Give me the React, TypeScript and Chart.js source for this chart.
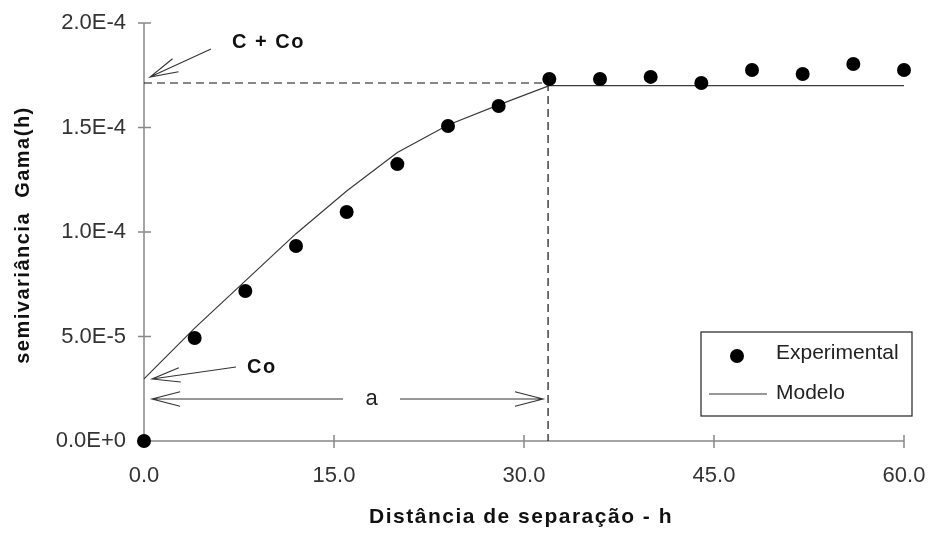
import React, { useEffect, useRef } from "react";
import { Chart, registerables } from "chart.js";

Chart.register(...registerables);

// ---- data ----
const lagH = [0, 4, 8, 12, 16, 20, 24, 28, 32, 36, 40, 44, 48, 52, 56, 60];
const gammaExp = [
  0, 4.93e-5, 7.18e-5, 9.33e-5, 1.096e-4, 1.325e-4, 1.507e-4, 1.603e-4,
  1.732e-4, 1.732e-4, 1.742e-4, 1.713e-4, 1.775e-4, 1.756e-4, 1.804e-4, 1.775e-4,
];
const modelH = [0, 4, 8, 12, 16, 20, 24, 28, 32, 60, 61];
const modelGamma = [
  2.97e-5, 5.4e-5, 7.66e-5, 9.92e-5, 1.196e-4, 1.38e-4, 1.512e-4, 1.608e-4,
  1.7e-4, 1.7e-4, 1.7e-4,
];
const xTicks = [0, 15, 30, 45, 60];
const yTicks = [0, 5e-5, 1e-4, 1.5e-4, 2e-4];
const NUGGET = 2.97e-5; // Co
const SILL = 1.713e-4; // C + Co
const RANGE = 31.9; // a

const xTitle = "Distância de separação - h";
const yTitle = "semivariância  Gama(h)";
const legendLabels = ["Experimental", "Modelo"];

const FONT = '"Liberation Sans", Arial, Helvetica, sans-serif';

function arrow(ctx: CanvasRenderingContext2D, x1: number, y1: number, tx: number, ty: number, len = 29, ang = 0.25) {
  ctx.beginPath();
  ctx.moveTo(x1, y1);
  ctx.lineTo(tx, ty);
  const a = Math.atan2(y1 - ty, x1 - tx);
  ctx.moveTo(tx + len * Math.cos(a - ang), ty + len * Math.sin(a - ang));
  ctx.lineTo(tx, ty);
  ctx.lineTo(tx + len * Math.cos(a + ang), ty + len * Math.sin(a + ang));
  ctx.stroke();
}

const decor = {
  id: "decor",
  beforeDatasetsDraw(chart: any) {
    const ctx = chart.ctx as CanvasRenderingContext2D;
    const xs = chart.scales.x;
    const ys = chart.scales.y;
    const x0 = xs.getPixelForValue(0);
    const x60 = xs.getPixelForValue(60);
    const y0 = ys.getPixelForValue(0);
    const yTop = ys.getPixelForValue(2e-4);
    ctx.save();
    // axes
    ctx.strokeStyle = "#888";
    ctx.lineWidth = 1.5;
    ctx.beginPath();
    ctx.moveTo(x0, yTop);
    ctx.lineTo(x0, y0);
    ctx.moveTo(x0, y0);
    ctx.lineTo(x60, y0);
    for (const v of yTicks) {
      const y = ys.getPixelForValue(v);
      ctx.moveTo(x0 - 6, y);
      ctx.lineTo(x0 + 7, y);
    }
    for (const v of xTicks) {
      const x = xs.getPixelForValue(v);
      ctx.moveTo(x, y0 - 6);
      ctx.lineTo(x, y0 + 7);
    }
    ctx.stroke();
    // dashed guides
    const ys1 = ys.getPixelForValue(SILL);
    const xr = xs.getPixelForValue(RANGE);
    ctx.strokeStyle = "#111";
    ctx.lineWidth = 1.2;
    ctx.setLineDash([8, 5]);
    ctx.beginPath();
    ctx.moveTo(x0, ys1);
    ctx.lineTo(xr, ys1);
    ctx.moveTo(xr, ys1);
    ctx.lineTo(xr, y0);
    ctx.stroke();
    ctx.restore();
  },
  afterDraw(chart: any) {
    const ctx = chart.ctx as CanvasRenderingContext2D;
    const xs = chart.scales.x;
    const ys = chart.scales.y;
    const ca = chart.chartArea;
    const x0 = xs.getPixelForValue(0);
    const y0 = ys.getPixelForValue(0);
    const ySill = ys.getPixelForValue(SILL);
    const yNug = ys.getPixelForValue(NUGGET);
    const xr = xs.getPixelForValue(RANGE);
    ctx.save();
    ctx.strokeStyle = "#333";
    ctx.lineWidth = 1.1;
    // C + Co arrow
    arrow(ctx, x0 + 67, ySill - 34, x0 + 6, ySill - 6);
    // Co arrow
    arrow(ctx, x0 + 92, yNug - 12, x0 + 8, yNug);
    // a arrows
    const ya = y0 - 42;
    arrow(ctx, x0 + 199, ya, x0 + 8, ya);
    arrow(ctx, x0 + 256, ya, xr - 5, ya);

    ctx.fillStyle = "#111";
    ctx.textBaseline = "middle";
    ctx.textAlign = "left";
    ctx.font = `bold 20px ${FONT}`;
    (ctx as any).letterSpacing = "1.5px";
    ctx.fillText("C + Co", x0 + 88, ySill - 40);
    ctx.fillText("Co", x0 + 103, yNug - 11);
    (ctx as any).letterSpacing = "0px";
    ctx.font = `22px ${FONT}`;
    ctx.fillStyle = "#222";
    ctx.textAlign = "center";
    ctx.fillText("a", (x0 + 199 + x0 + 256) / 2, ya);

    // axis titles
    ctx.fillStyle = "#111";
    ctx.font = `bold 21px ${FONT}`;
    (ctx as any).letterSpacing = "1.5px";
    ctx.textAlign = "center";
    ctx.fillText(xTitle, 521, y0 + 76);
    ctx.save();
    ctx.translate(23, (ca.top + ca.bottom) / 2 + 3);
    ctx.rotate(-Math.PI / 2);
    ctx.font = `bold 20px ${FONT}`;
    ctx.fillText(yTitle, 0, 0);
    ctx.restore();
    (ctx as any).letterSpacing = "0px";

    // legend
    const lx = ca.right - 203;
    const ly = ca.top + 309;
    ctx.strokeStyle = "#222";
    ctx.lineWidth = 1.2;
    ctx.strokeRect(lx, ly, 211, 84);
    ctx.fillStyle = "#000";
    ctx.beginPath();
    ctx.arc(lx + 36, ly + 24, 7, 0, Math.PI * 2);
    ctx.fill();
    ctx.strokeStyle = "#333";
    ctx.lineWidth = 1.2;
    ctx.beginPath();
    ctx.moveTo(lx + 8, ly + 62);
    ctx.lineTo(lx + 66, ly + 62);
    ctx.stroke();
    ctx.fillStyle = "#222";
    ctx.textAlign = "left";
    ctx.font = `21px ${FONT}`;
    ctx.fillText(legendLabels[0], lx + 75, ly + 21);
    ctx.fillText(legendLabels[1], lx + 75, ly + 61);
    ctx.restore();
  },
};

export default function App() {
  const ref = useRef<HTMLCanvasElement | null>(null);
  useEffect(() => {
    document.body.style.margin = "0";
    const canvas = ref.current!;
    const chart = new Chart(canvas, {
      type: "scatter",
      data: {
        datasets: [
          {
            type: "scatter",
            label: legendLabels[0],
            data: lagH.map((h, i) => ({ x: h, y: gammaExp[i] })),
            pointRadius: 7,
            pointHoverRadius: 7,
            backgroundColor: "#000",
            borderWidth: 0,
            clip: false as any,
            order: 0,
          },
          {
            type: "line",
            label: legendLabels[1],
            data: modelH.map((h, i) => ({ x: h, y: modelGamma[i] })),
            borderColor: "#3a3a3a",
            borderWidth: 1.2,
            pointRadius: 0,
            tension: 0,
            fill: false,
            clip: false as any,
            order: 1,
          },
        ],
      },
      options: {
        responsive: false,
        animation: false,
        devicePixelRatio: 1,
        layout: { padding: { left: 0, right: 26, top: 23, bottom: 0 } },
        plugins: { legend: { display: false }, tooltip: { enabled: false } },
        scales: {
          x: {
            type: "linear",
            min: 0,
            max: 60,
            grid: { display: false, drawTicks: false },
            border: { display: false },
            afterBuildTicks: (s: any) => {
              s.ticks = xTicks.map((v) => ({ value: v }));
            },
            afterFit: (s: any) => {
              s.height = 95;
              s.paddingLeft = 0;
              s.paddingRight = 0;
            },
            ticks: {
              padding: 22,
              maxRotation: 0,
              autoSkip: false,
              color: "#333",
              font: { family: FONT, size: 22 },
              callback: (v: any) => Number(v).toFixed(1),
            },
          },
          y: {
            type: "linear",
            min: 0,
            max: 2e-4,
            grid: { display: false, drawTicks: false },
            border: { display: false },
            afterBuildTicks: (s: any) => {
              s.ticks = yTicks.map((v) => ({ value: v }));
            },
            afterFit: (s: any) => {
              s.width = 144;
              s.paddingTop = 0;
              s.paddingBottom = 0;
            },
            ticks: {
              padding: 18,
              autoSkip: false,
              color: "#333",
              font: { family: FONT, size: 22 },
              callback: (v: any) => Number(v).toExponential(1).toUpperCase(),
            },
          },
        },
      } as any,
      plugins: [decor],
    });
    return () => chart.destroy();
  }, []);
  return (
    <div style={{ width: 930, height: 536, background: "#fff" }}>
      <canvas ref={ref} width={930} height={536} />
    </div>
  );
}
